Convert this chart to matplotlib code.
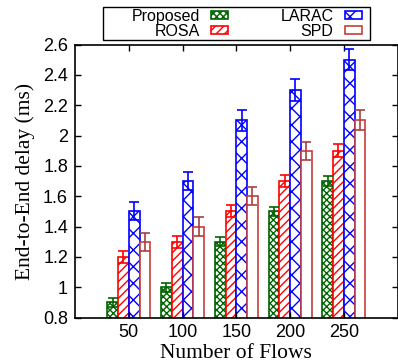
import numpy as np
import matplotlib
matplotlib.use('Agg')
import matplotlib.pyplot as plt
from matplotlib.patches import Rectangle

flows = [50, 100, 150, 200, 250]
series = ['Proposed', 'ROSA', 'LARAC', 'SPD']
proposed = [0.9, 1.0, 1.3, 1.5, 1.7]
rosa = [1.2, 1.3, 1.5, 1.7, 1.9]
larac = [1.5, 1.7, 2.1, 2.3, 2.5]
spd = [1.3, 1.4, 1.6, 1.9, 2.1]
proposed_err = [0.03, 0.03, 0.03, 0.03, 0.03]
rosa_err = [0.04, 0.04, 0.04, 0.04, 0.045]
larac_err = [0.06, 0.06, 0.07, 0.07, 0.07]
spd_err = [0.06, 0.06, 0.06, 0.06, 0.065]

plt.rcParams['hatch.linewidth'] = 1.0

fig = plt.figure(figsize=(3.98, 3.63), dpi=100)
ax = fig.add_axes([75 / 398, 45.5 / 363, 322.5 / 398, 273 / 363])

values = [proposed, rosa, larac, spd]
errors = [proposed_err, rosa_err, larac_err, spd_err]
colors = ['#006400', '#ff0000', '#0000ff', '#c83c3c']
ecolors = ['#006400', '#ff0000', '#0000ff', '#a84040']
hatches = ['xxxxx', '////', 'xx', '']
width = 10
x = np.array(flows)

for i, name in enumerate(series):
    pos = x + (i - 1.5) * width
    ax.bar(pos, values[i], width, bottom=0, facecolor='white',
           edgecolor=colors[i], hatch=hatches[i], linewidth=1.2, label=name)
    ax.errorbar(pos, values[i], yerr=errors[i], fmt='none',
                ecolor=ecolors[i], elinewidth=1.2, capsize=3.5, capthick=1.2)

ax.set_xlim(0, 300)
ax.set_ylim(0.8, 2.6)
ax.set_xticks(flows)
ax.set_yticks(np.arange(0.8, 2.61, 0.2))
ax.set_yticklabels(['0.8', '1', '1.2', '1.4', '1.6', '1.8', '2', '2.2', '2.4', '2.6'])
ax.tick_params(direction='in', length=4, width=1, top=True, right=True,
               labelsize=13, pad=5)
for lab in ax.get_xticklabels() + ax.get_yticklabels():
    lab.set_family('Liberation Sans')
for s in ax.spines.values():
    s.set_linewidth(1.2)

ax.set_xlabel('Number of Flows', family='Liberation Serif', fontsize=15.5, labelpad=2)
ax.set_ylabel('End-to-End delay (ms)', family='Liberation Serif', fontsize=15.5, labelpad=6)

# legend box drawn separately (gnuplot-style wide key)
fig.patches.append(Rectangle((103 / 398, 1 - 40 / 363), 267 / 398, 33 / 363,
                             transform=fig.transFigure, fill=False,
                             edgecolor='black', linewidth=1.0))
leg = fig.legend(loc='center', bbox_to_anchor=(246.5 / 398, 1 - 24 / 363), ncol=2,
                 markerfirst=False, frameon=False,
                 prop={'family': 'Liberation Sans', 'size': 11.5},
                 handlelength=1.05, handleheight=0.4, labelspacing=0.0,
                 columnspacing=3.3, borderpad=0.0, handletextpad=0.7)

fig.savefig('out.png', dpi=100)
